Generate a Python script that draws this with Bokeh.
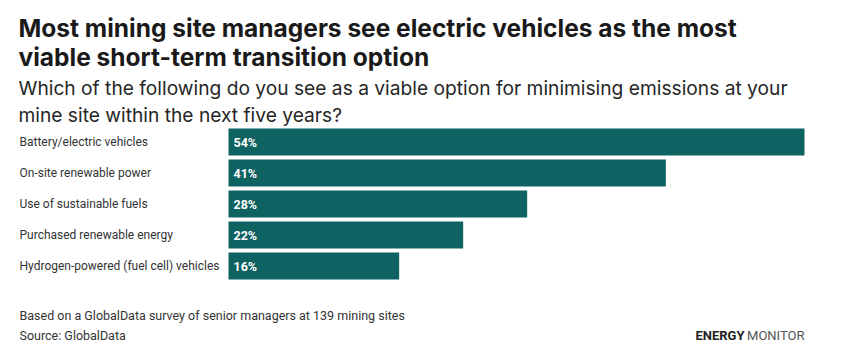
from bokeh.plotting import figure
from bokeh.models import Range1d, Label, ColumnDataSource
from bokeh.core.properties import value
from bokeh.embed import file_html
from bokeh.resources import INLINE

categories = [
    "Battery/electric vehicles",
    "On-site renewable power",
    "Use of sustainable fuels",
    "Purchased renewable energy",
    "Hydrogen-powered (fuel cell) vehicles",
]
values = [54, 41, 28, 22, 16]
value_labels = [f"{v}%" for v in values]

title_lines = [
    "Most mining site managers see electric vehicles as the most",
    "viable short-term transition option",
]
subtitle_lines = [
    "Which of the following do you see as a viable option for minimising emissions at your",
    "mine site within the next five years?",
]
note = "Based on a GlobalData survey of senior managers at 139 mining sites"
source = "Source: GlobalData"

FONT = "Roboto"
HEAD_FONT = "Inter"
BAR = "#0f6262"

W, H = 842, 357
# plot area layout in pixels
X0, X1 = 228, 804          # 0% and max-value pixel positions
Y_TOP, PITCH = 126, 31     # top of first category band, band height
px_per_unit = (X1 - X0) / max(values)

x_range = Range1d(-X0 / px_per_unit, (W - X0) / px_per_unit)
y_range = Range1d((H - Y_TOP) / PITCH - 0.5, -Y_TOP / PITCH - 0.5)

src = ColumnDataSource(dict(idx=list(range(len(categories))), cat=categories,
                            val=values, lab=value_labels,
                            zero=[0] * len(values)))

p = figure(width=W, height=H, output_backend="svg", toolbar_location=None,
           x_range=x_range, y_range=y_range,
           x_axis_type=None, y_axis_type=None, min_border=0)
p.outline_line_color = None
p.grid.visible = False
p.background_fill_color = "white"
p.border_fill_color = "white"

p.hbar(y="idx", right="val", left=0, height=27 / 31, source=src,
       fill_color=BAR, line_color=None)

p.text(x="zero", y="idx", text="lab", source=src, x_offset=5,
       text_font=value(FONT), text_font_style="bold", text_font_size="12.5px",
       text_color="white", text_baseline="middle", text_align="left")

p.text(x="zero", y="idx", text="cat", source=src, x_offset=-(X0 - 19),
       text_font=value(FONT), text_font_size="12px",
       text_color="#333333", text_baseline="middle", text_align="left")


def add_label(txt, cx, cy, size, color="#222222", style="normal", align="left",
              font=FONT):
    p.add_layout(Label(x=cx, y=H - cy, x_units="screen", y_units="screen",
                       text=txt, text_font=font, text_font_size=size,
                       text_font_style=style, text_color=color,
                       text_align=align, text_baseline="alphabetic"))


add_label(title_lines[0], 18, 27, "24.5px", color="#1a1a1a", style="bold", font=HEAD_FONT)
add_label(title_lines[1], 18, 56, "24.5px", color="#1a1a1a", style="bold", font=HEAD_FONT)
add_label(subtitle_lines[0], 18, 87, "19.2px", color="#262626", font=HEAD_FONT)
add_label(subtitle_lines[1], 18, 114, "19.2px", color="#262626", font=HEAD_FONT)
add_label(note, 19, 315, "12.5px", color="#333333")
add_label(source, 19, 335, "12.5px", color="#333333")
add_label("ENERGY", 744, 335, "13px", color="#222222", style="bold", align="right")
add_label("MONITOR", 804, 335, "13px", color="#555555", align="right")

open("out.html", "w").write(file_html(p, INLINE))
